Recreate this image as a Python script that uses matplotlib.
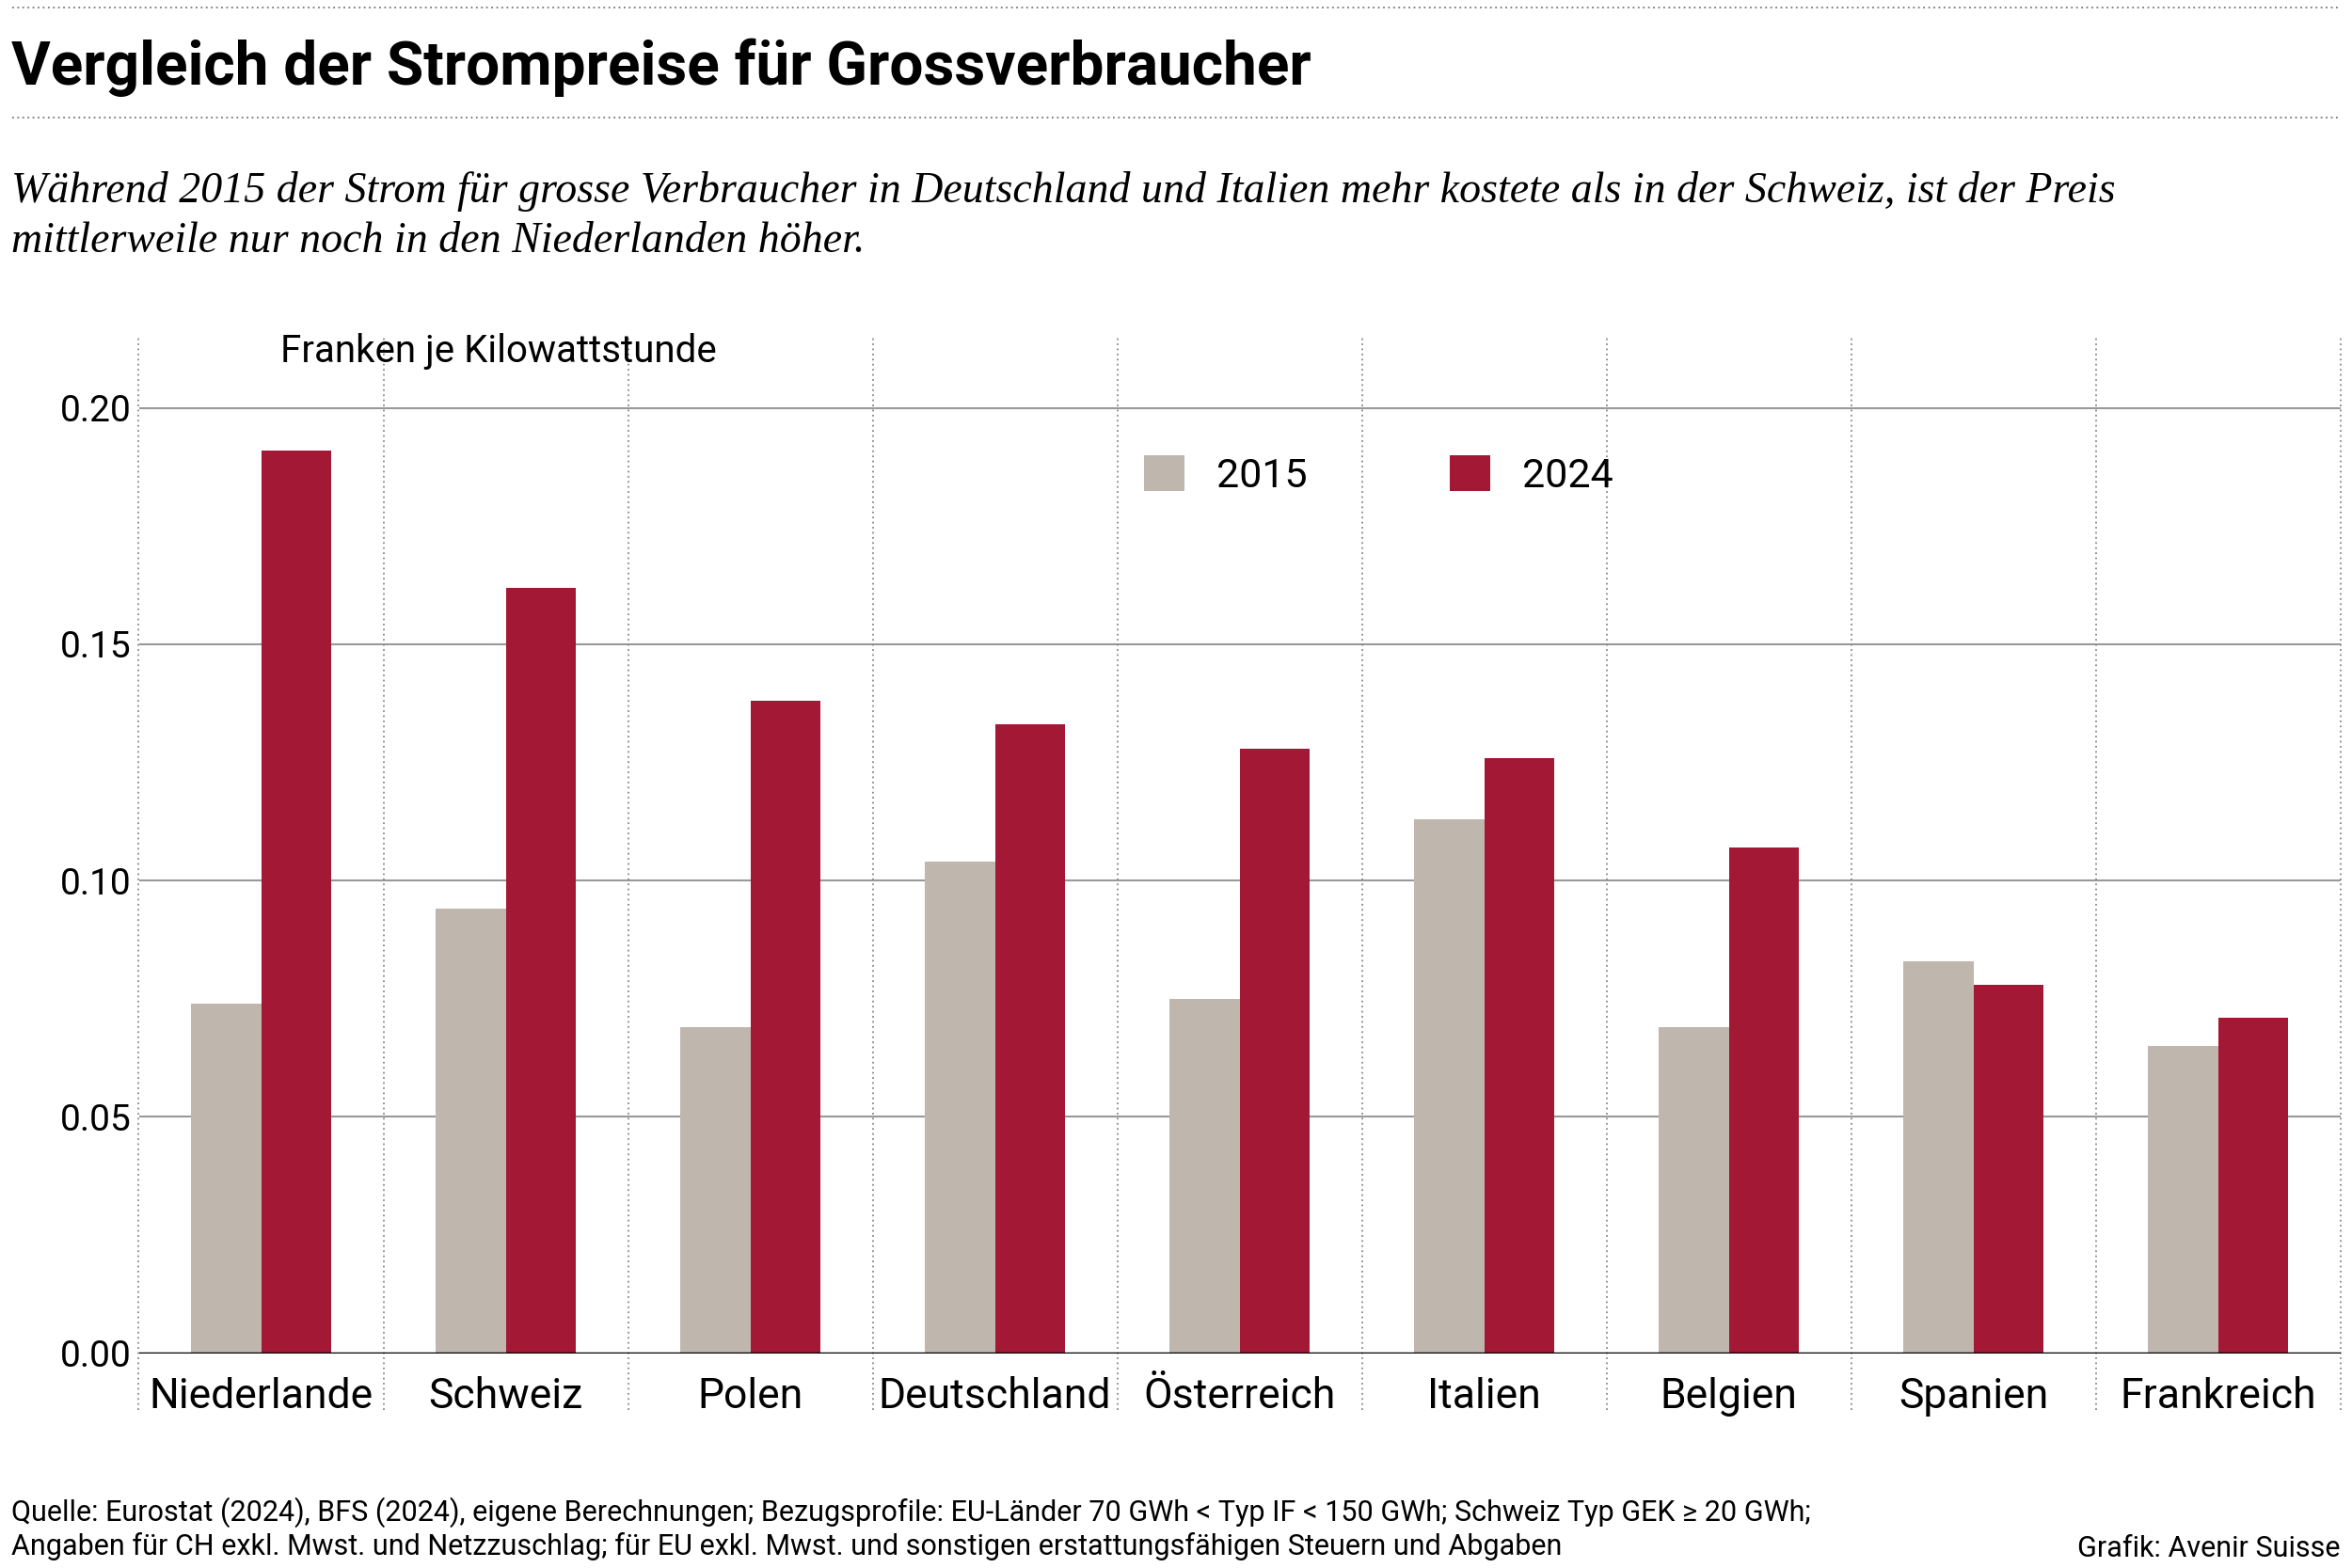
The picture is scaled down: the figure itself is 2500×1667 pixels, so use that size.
import matplotlib.pyplot as plt
import numpy as np

countries = ["Niederlande", "Schweiz", "Polen", "Deutschland", "Österreich",
             "Italien", "Belgien", "Spanien", "Frankreich"]
prices_2015 = [0.074, 0.094, 0.069, 0.104, 0.075, 0.113, 0.069, 0.083, 0.065]
prices_2024 = [0.191, 0.162, 0.138, 0.133, 0.128, 0.126, 0.107, 0.078, 0.071]
yticks = [0.00, 0.05, 0.10, 0.15, 0.20]

grey = "#BFB7AD"
red = "#A31834"
plt.rcParams["font.family"] = ["Roboto", "DejaVu Sans"]

fig = plt.figure(figsize=(25, 16.67), dpi=100)
ax = fig.add_axes([0.059, 0.137, 0.936, 0.648])

x = np.arange(len(countries))
w = 0.285
ax.bar(x - w / 2, prices_2015, w, color=grey, label="2015")
ax.bar(x + w / 2, prices_2024, w, color=red, label="2024")

ax.set_xlim(-0.5, len(countries) - 0.5)
ax.set_ylim(0, 0.215)
ax.set_yticks(yticks)
ax.set_yticklabels([f"{v:.2f}" for v in yticks], fontsize=28)
ax.tick_params(axis="y", length=0, pad=60)
for lab in ax.get_yticklabels():
    lab.set_horizontalalignment("left")
ax.set_xticks(x)
ax.set_xticklabels(countries, fontsize=32)
ax.tick_params(axis="x", length=0, pad=18)

for v in yticks[1:]:
    ax.axhline(v, color="#999999", lw=1.5, zorder=0)
ax.axhline(0, color="black", lw=2.5, zorder=3)
for b in np.arange(-0.5, len(countries), 1.0):
    ax.plot([b, b], [-0.012, 0.215], color="#888888", lw=1.3, ls=(0, (1, 2)),
            clip_on=False, zorder=0)
for s in ax.spines.values():
    s.set_visible(False)

ax.text(0.08, 0.212, "Franken je Kilowattstunde", fontsize=29, va="center",
        ha="left")
ax.legend(loc="upper left", bbox_to_anchor=(0.44, 0.92), ncol=2, frameon=False,
          fontsize=31, handlelength=1.0, handleheight=1.0, columnspacing=3.5)

# header
fig.add_artist(plt.Line2D([0.005, 0.995], [0.995, 0.995], color="#777777",
                          lw=1.3, ls=(0, (1, 2))))
fig.add_artist(plt.Line2D([0.005, 0.995], [0.925, 0.925], color="#777777",
                          lw=1.3, ls=(0, (1, 2))))
fig.text(0.005, 0.957, "Vergleich der Strompreise für Grossverbraucher",
         fontsize=46, fontweight="bold", va="center")
fig.text(0.005, 0.862,
         "Während 2015 der Strom für grosse Verbraucher in Deutschland und Italien mehr kostete als in der Schweiz, ist der Preis\n"
         "mittlerweile nur noch in den Niederlanden höher.",
         family="Liberation Serif", style="italic", fontsize=33, va="center",
         linespacing=1.3)

# footer
fig.text(0.005, 0.025,
         "Quelle: Eurostat (2024), BFS (2024), eigene Berechnungen; Bezugsprofile: EU-Länder 70 GWh < Typ IF < 150 GWh; Schweiz Typ GEK ≥ 20 GWh;\n"
         "Angaben für CH exkl. Mwst. und Netzzuschlag; für EU exkl. Mwst. und sonstigen erstattungsfähigen Steuern und Abgaben",
         fontsize=22, va="center", linespacing=1.2)
fig.text(0.995, 0.012, "Grafik: Avenir Suisse", fontsize=22, ha="right",
         va="center")

fig.savefig("out.png", dpi=100)
